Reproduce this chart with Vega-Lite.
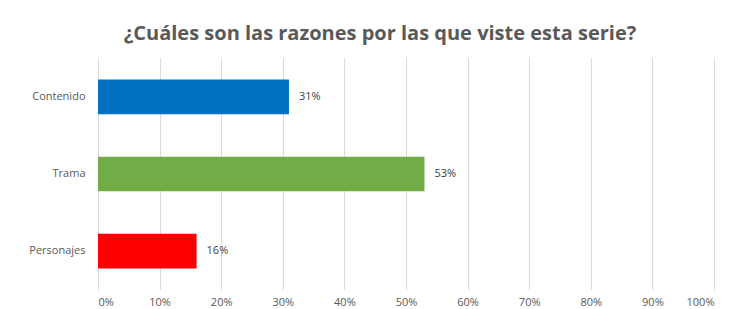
{
  "$schema": "https://vega.github.io/schema/vega-lite/v6.json",
  "width": 616,
  "height": 232,
  "autosize": {"type": "none"},
  "padding": {"left": 98, "top": 58, "right": 19, "bottom": 19},
  "background": "white",
  "config": {"view": {"stroke": null}, "font": "Open Sans"},
  "title": {
    "text": "¿Cuáles son las razones por las que viste esta serie?",
    "fontSize": 20,
    "fontWeight": "bold",
    "color": "#595959",
    "font": "Open Sans",
    "anchor": "middle",
    "frame": "group",
    "dx": -26,
    "offset": 14
  },
  "data": {
    "values": [
      {"razon": "Contenido", "valor": 0.31, "color": "#0070c0"},
      {"razon": "Trama", "valor": 0.53, "color": "#70ad47"},
      {"razon": "Personajes", "valor": 0.16, "color": "#ff0000"}
    ]
  },
  "encoding": {
    "y": {
      "field": "razon",
      "type": "nominal",
      "sort": ["Contenido", "Trama", "Personajes"],
      "scale": {"paddingInner": 0.55, "paddingOuter": 0.28},
      "axis": {
        "title": null,
        "domain": false,
        "ticks": false,
        "labelPadding": 13,
        "labelFontSize": 11,
        "labelColor": "#595959",
        "labelFont": "Open Sans"
      }
    },
    "x": {
      "field": "valor",
      "type": "quantitative",
      "scale": {"domain": [0, 1]},
      "axis": {
        "title": null,
        "format": "%",
        "values": [0, 0.1, 0.2, 0.3, 0.4, 0.5, 0.6, 0.7, 0.8, 0.9, 1],
        "domain": false,
        "ticks": false,
        "grid": true,
        "gridColor": "#d9d9d9",
        "labelPadding": 6,
        "labelFontSize": 11,
        "labelColor": "#595959",
        "labelFont": "Open Sans"
      }
    }
  },
  "layer": [
    {
      "mark": {"type": "bar"},
      "encoding": {
        "color": {"field": "color", "type": "nominal", "scale": null}
      }
    },
    {
      "mark": {"type": "text", "align": "left", "dx": 10, "fontSize": 11, "color": "#404040", "font": "Open Sans"},
      "encoding": {
        "text": {"field": "valor", "type": "quantitative", "format": ".0%"}
      }
    }
  ]
}
